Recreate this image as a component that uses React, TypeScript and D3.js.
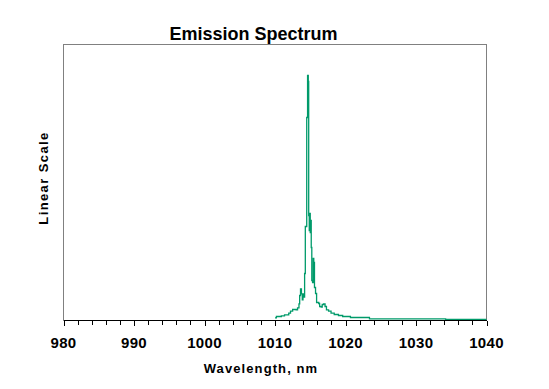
import React from "react";
import * as d3 from "d3";

const wavelengths = [
  1010.0, 1010.2, 1010.9, 1011.35, 1011.95, 1012.2, 1012.5, 1013.0, 1013.2, 1013.4,
  1013.5, 1013.62, 1013.75, 1013.87, 1013.97, 1014.08, 1014.2, 1014.3, 1014.5, 1014.62,
  1014.72, 1014.78, 1014.86, 1014.93, 1015.0, 1015.07, 1015.14, 1015.22, 1015.33, 1015.42,
  1015.5, 1015.6, 1015.75, 1015.9, 1016.2, 1016.33, 1016.55, 1016.7, 1016.9, 1017.1,
  1017.3, 1017.6, 1017.95, 1018.4, 1019.0, 1019.6, 1020.7, 1023.4, 1034.2, 1040.0,
];
const intensities = [
  2.7, 4, 4.7, 5.7, 7.3, 9.3, 11, 10.7, 12.7, 16.7,
  25, 31.7, 26.7, 20.7, 26.7, 23.3, 47, 94, 203, 245,
  239, 105, 90, 107, 88, 100, 73, 40, 38, 62,
  58, 33, 27, 18, 17, 14, 13.3, 16, 16.7, 14,
  10.7, 9.3, 7.3, 6, 5, 4, 3, 1.7, 1, 1,
];
const majorTicks = [980, 990, 1000, 1010, 1020, 1030, 1040];
const minorTicks = d3.range(980, 1041, 2);

const title = "Emission Spectrum";
const xTitle = "Wavelength, nm";
const yTitle = "Linear Scale";

export default function App() {
  const left = 63.5, right = 486.5, top = 44.5, bottom = 320.5;
  const x = d3.scaleLinear().domain([980, 1040]).range([left, right]);
  const y = d3.scaleLinear().domain([0, 276]).range([bottom, top]);
  const pts = wavelengths.map((w, i) => [w, intensities[i]] as [number, number]);
  const line = d3
    .line<[number, number]>()
    .x((d) => x(d[0]))
    .y((d) => y(d[1]))
    .curve(d3.curveStepAfter);
  const font = "'Liberation Sans', Arial, sans-serif";
  return (
    <svg
      width={549}
      height={389}
      style={{ position: "absolute", left: 0, top: 0, background: "#fff" }}
    >
      <rect x={0} y={0} width={549} height={389} fill="#fff" />
      <path
        d={`M${left},${bottom}V${top}H${right}V${bottom}`}
        fill="none"
        stroke="#808080"
        strokeWidth={1}
        shapeRendering="crispEdges"
      />
      <path d={line(pts) || ""} fill="none" stroke="#009a6a" strokeWidth={1.3} />
      <line
        x1={left}
        x2={right + 0.5}
        y1={bottom}
        y2={bottom}
        stroke="#000"
        strokeWidth={1}
        shapeRendering="crispEdges"
      />
      {minorTicks.map((t) => (
        <line
          key={"m" + t}
          x1={Math.round(x(t)) + 0.5}
          x2={Math.round(x(t)) + 0.5}
          y1={bottom}
          y2={bottom + (t % 10 === 0 ? 5 : 4)}
          stroke="#000"
          strokeWidth={1}
          shapeRendering="crispEdges"
        />
      ))}
      {majorTicks.map((t) => (
        <text
          key={"l" + t}
          x={x(t)}
          y={347.5}
          textAnchor="middle"
          fontFamily={font}
          fontWeight="bold"
          fontSize={15}
          letterSpacing={0.3}
          fill="#000"
        >
          {t}
        </text>
      ))}
      <text
        x={253.5}
        y={39.5}
        textAnchor="middle"
        fontFamily={font}
        fontWeight="bold"
        fontSize={18}
        fill="#000"
      >
        {title}
      </text>
      <text
        x={261}
        y={373}
        textAnchor="middle"
        fontFamily={font}
        fontWeight="bold"
        fontSize={13}
        letterSpacing={1.1}
        fill="#000"
      >
        {xTitle}
      </text>
      <text
        transform="translate(48,178) rotate(-90)"
        textAnchor="middle"
        fontFamily={font}
        fontWeight="bold"
        fontSize={13}
        letterSpacing={1.4}
        fill="#000"
      >
        {yTitle}
      </text>
    </svg>
  );
}
